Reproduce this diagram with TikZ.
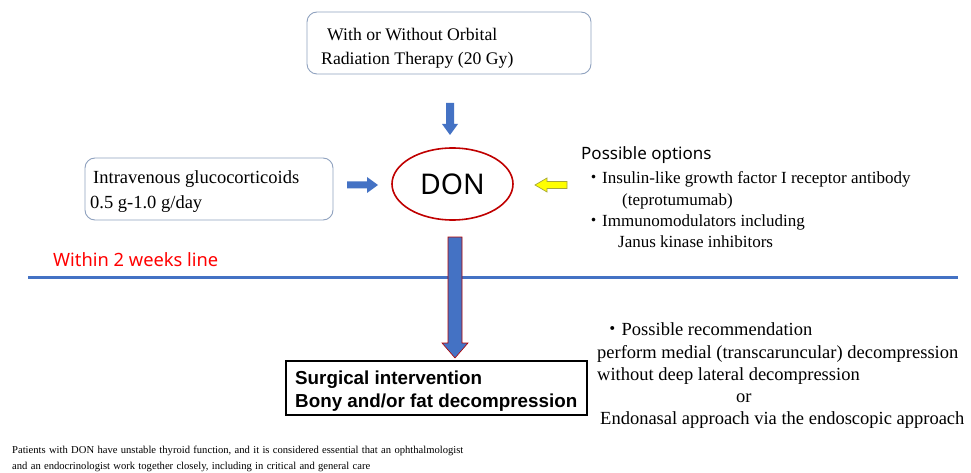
\documentclass[tikz,border=0pt]{standalone}
\usepackage{fontspec}
\usetikzlibrary{shapes.geometric}
\setmainfont{Liberation Serif}
\newfontfamily\sansf{Noto Sans}
\newfontfamily\boldsans{Liberation Sans}
\newfontfamily\notefont[WordSpace=1.25]{Liberation Serif}
\newfontfamily\cjk{Noto Sans CJK JP}
\definecolor{arrblue}{HTML}{4472C4}
\definecolor{boxedge}{HTML}{8FA2BF}
\definecolor{donred}{HTML}{C00000}
\definecolor{yel}{HTML}{FFFF00}
\definecolor{yeledge}{HTML}{A6A63A}
\begin{document}
\begin{tikzpicture}[x=1pt,y=-1pt,
  rbox/.style={draw=boxedge,line width=0.9pt,rounded corners=10pt},
  txt/.style={anchor=base west,inner sep=0pt,font=\fontsize{17}{20}\selectfont},
  txtb/.style={anchor=base west,inner sep=0pt,font=\fontsize{18.5}{22}\selectfont},
  surg/.style={anchor=base west,inner sep=0pt,font=\boldsans\bfseries\fontsize{18.8}{22}\selectfont},
  note/.style={anchor=base west,inner sep=0pt,font=\notefont\fontsize{10.6}{12}\selectfont},
]
\useasboundingbox (0,0) rectangle (971,473);
\fill[white] (0,0) rectangle (971,473);

% top box
\draw[rbox] (307,12) rectangle (591,74);
\node[anchor=base west,inner sep=0pt,font=\fontsize{17.7}{21}\selectfont] (t1) at (327,41) {With or Without Orbital};
\node[anchor=base west,inner sep=0pt,font=\fontsize{17.7}{21}\selectfont] (t2) at (321,65) {Radiation Therapy (20 Gy)};

% left box
\draw[rbox] (85,158) rectangle (333,220);
\node[txtb] (l1) at (93,184) {Intravenous glucocorticoids};
\node[txtb] (l2) at (90,208) {0.5 g-1.0 g/day};

% DON
\node[ellipse,draw=donred,line width=1.6pt,minimum width=121pt,minimum height=72pt,inner sep=0pt,font=\sansf\fontsize{28.5}{32}\selectfont] (don) at (452.5,184) {DON};

% small down arrow
\fill[arrblue] (446,103) -- (454,103) -- (454,124) -- (458,124) -- (450,135) -- (442,124) -- (446,124) -- cycle;
% right arrow
\fill[arrblue] (347,181.5) -- (367,181.5) -- (367,177) -- (378,185) -- (367,193) -- (367,188.5) -- (347,188.5) -- cycle;
% yellow left arrow
\filldraw[fill=yel,draw=yeledge,line width=0.7pt] (567,181.5) -- (547,181.5) -- (547,178) -- (535,185) -- (547,192) -- (547,188.5) -- (567,188.5) -- cycle;

% possible options
\node[anchor=base west,inner sep=0pt,font=\sansf\fontsize{17}{20}\selectfont] (po) at (581,160) {Possible options};
\node[txt] (o1) at (585,184) {{\cjk ・}Insulin-like growth factor I receptor antibody};
\node[txt] (o2) at (622,205) {(teprotumumab)};
\node[txt] (o3) at (585,226) {{\cjk ・}Immunomodulators including};
\node[txt] (o4) at (618,247) {Janus kinase inhibitors};

% within 2 weeks line
\node[anchor=base west,inner sep=0pt,text=red,font=\sansf\fontsize{18.3}{21}\selectfont] (w) at (53,266) {Within 2 weeks line};
\coordinate (la) at (28,277);
\coordinate (lb) at (958,277);
\draw[arrblue,line width=3pt] (la) -- (lb);

% long arrow
\filldraw[fill=arrblue,draw=red!70!black,line width=0.6pt] (448,237) -- (462,237) -- (462,343) -- (468,343) -- (455,358) -- (442,343) -- (448,343) -- cycle;

% surgical box
\draw[black,line width=2.4pt] (286,361) rectangle (587,415);
\node[surg] (s1) at (295,384) {Surgical intervention};
\node[surg] (s2) at (295,407) {Bony and/or fat decompression};

% recommendation
\node[txtb] (r1) at (603,335) {{\cjk ・}Possible recommendation};
\node[txtb] (r2) at (597,358) {perform medial (transcaruncular) decompression};
\node[txtb] (r3) at (597,380) {without deep lateral decompression};
\node[txtb] (r4) at (736,402) {or};
\node[txtb] (r5) at (600,424) {Endonasal approach via the endoscopic approach};

% bottom note
\node[note] (n1) at (12,453) {Patients with DON have unstable thyroid function, and it is considered essential that an ophthalmologist};
\node[note] (n2) at (12,469) {and an endocrinologist work together closely, including in critical and general care};
\end{tikzpicture}
\end{document}
